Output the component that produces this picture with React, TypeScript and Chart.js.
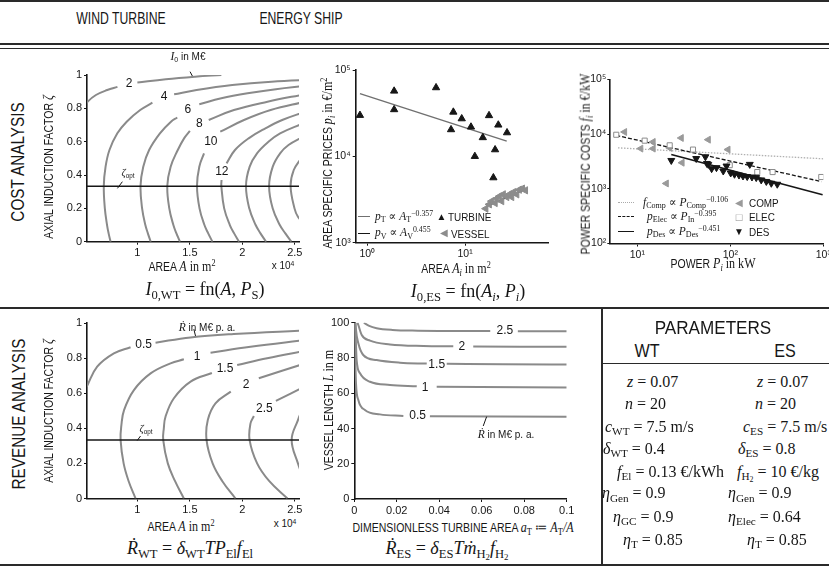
import React, { useEffect, useRef } from "react";
import { Chart, registerables } from "chart.js";

Chart.register(...registerables);

type Pt = [number, number] | null;

// ================= DATA =================
// Panel 1: wind-turbine investment contours I0 (M€), x = area A (×10^4 m²), y = axial induction factor ζ
const WT_AREA_TICKS = [1, 1.5, 2, 2.5];
const ZETA_TICKS = [0, 0.2, 0.4, 0.6, 0.8, 1];
const ZETA_OPT_A = [0.52, 2.54];
const ZETA_OPT_Z = [0.333, 0.333];

const I0_C2: Pt[] = [[0.47, 0.79], [0.527, 0.84], [0.605, 0.88], [0.713, 0.91], [0.81, 0.929], null, [1.0, 0.955], [1.271, 0.975], [1.55, 0.99], [1.8, 1.0]];
const I0_C4: Pt[] = [[0.745, 0], [0.726, 0.05], [0.711, 0.1], [0.69, 0.2], [0.68, 0.334], [0.697, 0.45], [0.734, 0.55], [0.809, 0.65], [0.898, 0.72], [1.027, 0.79], [1.143, 0.834], null, [1.35, 0.884], [1.564, 0.91], [1.904, 0.94], [2.278, 0.96], [2.79, 0.975]];
const I0_C6: Pt[] = [[1.127, 0], [1.1, 0.05], [1.076, 0.1], [1.045, 0.2], [1.03, 0.334], [1.056, 0.45], [1.112, 0.55], [1.215, 0.65], [1.32, 0.72], [1.38, 0.745], null, [1.59, 0.825], [1.8, 0.86], [2.05, 0.89], [2.32, 0.915], [2.6, 0.935]];
const I0_C8: Pt[] = [[1.406, 0], [1.372, 0.05], [1.343, 0.1], [1.304, 0.2], [1.285, 0.334], [1.317, 0.45], [1.385, 0.55], [1.445, 0.62], [1.5, 0.665], null, [1.68, 0.73], [1.92, 0.79], [2.24, 0.84], [2.6, 0.885]];
const I0_C10: Pt[] = [[1.715, 0], [1.675, 0.05], [1.639, 0.1], [1.592, 0.2], [1.568, 0.334], [1.59, 0.45], [1.635, 0.53], null, [1.79, 0.66], [2.016, 0.73], [2.27, 0.79], [2.6, 0.84]];
const I0_C12: Pt[] = [[1.969, 0], [1.922, 0.05], [1.881, 0.1], [1.827, 0.2], [1.8, 0.334], [1.802, 0.37], null, [1.85, 0.47], [1.93, 0.55], [2.06, 0.62], [2.22, 0.68], [2.38, 0.73], [2.6, 0.78]];
const I0_C14: Pt[] = [[2.226, 0], [2.173, 0.05], [2.127, 0.1], [2.066, 0.2], [2.035, 0.334], [2.07, 0.45], [2.14, 0.53], [2.25, 0.6], [2.36, 0.65], [2.58, 0.71]];
const I0_C16: Pt[] = [[2.467, 0], [2.41, 0.05], [2.357, 0.1], [2.289, 0.2], [2.255, 0.334], [2.29, 0.45], [2.36, 0.53], [2.44, 0.58], [2.58, 0.63]];
const I0_C18: Pt[] = [[2.6, 0.1], [2.53, 0.15], [2.497, 0.2], [2.46, 0.334], [2.49, 0.43], [2.56, 0.5]];
const I0_LABELS: [string, number, number][] = [["2", 0.92, 0.945], ["4", 1.254, 0.87], ["6", 1.48, 0.79], ["8", 1.59, 0.71], ["10", 1.7, 0.6], ["12", 1.805, 0.42]];
const I0_LEADERS: [number, number, number, number][] = [[1.502, 1.02, 1.524, 0.994], [0.81, 0.32, 0.857, 0.36]];

// Panel 4: wind-turbine revenue contours (M€ p.a.)
const R_05: Pt[] = [[0.48, 0.6], [0.517, 0.637], [0.617, 0.751], [0.776, 0.827], [0.935, 0.862], null, [1.173, 0.888], [1.507, 0.918], [1.919, 0.937], [2.6, 0.957]];
const R_1: Pt[] = [[0.983, 0], [0.916, 0.1], [0.869, 0.2], [0.84, 0.334], [0.848, 0.42], [0.873, 0.504], [0.967, 0.618], [1.126, 0.713], [1.316, 0.77], [1.443, 0.793], null, [1.697, 0.831], [2.078, 0.865], [2.6, 0.903]];
const R_15: Pt[] = [[1.443, 0], [1.358, 0.1], [1.29, 0.2], [1.246, 0.334], [1.252, 0.4], [1.268, 0.466], [1.348, 0.571], [1.507, 0.666], [1.71, 0.715], null, [1.951, 0.761], [2.237, 0.799], [2.6, 0.842]];
const R_2: Pt[] = [[1.935, 0], [1.808, 0.1], [1.717, 0.2], [1.659, 0.334], [1.671, 0.447], [1.744, 0.542], [1.89, 0.609], null, [2.157, 0.685], [2.6, 0.77]];
const R_25: Pt[] = [[2.43, 0], [2.255, 0.1], [2.141, 0.2], [2.069, 0.334], [2.078, 0.428], [2.11, 0.47], null, [2.32, 0.556], [2.6, 0.64]];
const R_3: Pt[] = [[2.58, 0.12], [2.53, 0.2], [2.47, 0.334], [2.53, 0.447], [2.58, 0.52]];
const R_LABELS: [string, number, number][] = [["0.5", 1.06, 0.875], ["1", 1.569, 0.81], ["1.5", 1.835, 0.74], ["2", 2.036, 0.647], ["2.5", 2.21, 0.514]];
const R_LEADERS: [number, number, number, number][] = [[1.538, 0.965, 1.554, 0.926], [0.998, 0.33, 1.03, 0.356]];

// Panel 5: vessel length contours (M€ p.a.), x = a_T, y = L in m
const AT_TICKS = [0, 0.02, 0.04, 0.06, 0.08, 0.1];
const L_TICKS = [0, 20, 40, 60, 80, 100];
const L_25: Pt[] = [[0.0045, 100], [0.007, 98.2], [0.0105, 96.9], [0.018, 95.9], [0.03, 95.5], [0.05, 95.3], [0.064, 95.3], null, [0.077, 95.2], [0.1, 95.2]];
const L_2: Pt[] = [[0.0015, 100], [0.0019, 98.7], [0.0035, 93], [0.0074, 89.8], [0.0168, 87.7], [0.0325, 86.8], [0.0466, 86.6], null, [0.056, 86.5], [0.1, 86.3]];
const L_15: Pt[] = [[0.0006, 100], [0.0008, 95.9], [0.0019, 88.3], [0.0042, 81.7], [0.0105, 78.8], [0.0215, 77.3], [0.0341, 76.8], null, [0.0435, 76.7], [0.07, 76.5], [0.1, 76.3]];
const L_1: Pt[] = [[0.0004, 100], [0.0007, 90.2], [0.0011, 78.8], [0.0027, 71.3], [0.0074, 66.5], [0.0168, 64.7], [0.0294, 63.9], null, [0.0388, 63.7], [0.1, 63.3]];
const L_05: Pt[] = [[0.0003, 100], [0.0005, 78.8], [0.0008, 65.6], [0.0019, 56.2], [0.005, 50.5], [0.0121, 48], [0.0231, 47.1], null, [0.0356, 46.9], [0.1, 46.6]];
const L_LABELS: [string, number, number][] = [["2.5", 0.0709, 95.5], ["2", 0.0506, 86.4], ["1.5", 0.0388, 76.2], ["1", 0.0333, 63.3], ["0.5", 0.0298, 47.0]];
const L_LEADERS: [number, number, number, number][] = [[0.0623, 46.7, 0.0607, 41.4]];

// Panel 2: area specific prices
const ES_AREA_TICKS = [1, 10];
const ES_AREA_TICK_LABELS = ["10⁰", "10¹"];
const PRICE_TICKS = [1e3, 1e4, 1e5];
const PRICE_TICK_LABELS = ["10³", "10⁴", "10⁵"];
const TURBINE_AREA = [0.84, 1.88, 1.88, 5.05, 7.19, 7.59, 9.25, 11.5, 12.6, 15.2, 17.6, 19.5, 20.3, 21.9, 26.9];
const TURBINE_PRICE = [29900, 57100, 34800, 62500, 20400, 32600, 27300, 21900, 10000, 16500, 29700, 5660, 11950, 23100, 18800];
const VESSEL_AREA = [16.3, 17.7, 18.7, 20.3, 21.1, 22.4, 23.7, 24.6, 26.7, 28.4, 30.0, 31.3, 33.8, 35.9, 38.6, 41.5];
const VESSEL_PRICE = [2480, 2780, 3030, 2880, 3240, 3440, 3030, 3630, 3380, 3630, 3380, 3850, 3630, 4110, 4230, 4040];
const TURBINE_FIT_AREA = [0.84, 26.7];
const TURBINE_FIT_PRICE = [53300, 15000];
const VESSEL_FIT_AREA = [16.7, 41.2];
const VESSEL_FIT_PRICE = [2650, 4150];

// Panel 3: power specific costs
const POWER_TICKS = [10, 100, 1000];
const POWER_TICK_LABELS = ["10¹", "10²", "10³"];
const COST_TICKS = [1e2, 1e3, 1e4, 1e5];
const COST_TICK_LABELS = ["10²", "10³", "10⁴", "10⁵"];
const COMP_POWER = [7.3, 10.9, 14.8, 14.8, 22.3, 29.7, 30.3, 20.5, 58, 94.4];
const COMP_COST = [10900, 5420, 7170, 5420, 5590, 8470, 2990, 1250, 7890, 5200];
const ELEC_POWER = [5.94, 12.0, 22.3, 39.7, 98.6, 195, 285, 951];
const ELEC_COST = [9700, 7570, 6220, 5200, 2700, 2020, 2020, 1640];
const DES_POWER = [23.2, 43, 54, 56, 58, 63, 71, 84, 91, 101, 111, 124, 137, 152, 162, 171, 190, 215, 244, 276, 320];
const DES_COST = [3290, 3570, 3840, 2900, 2790, 2330, 2430, 2110, 2600, 1940, 1840, 1780, 1710, 1670, 2790, 1640, 1600, 1450, 1360, 1260, 1210];
const COMP_FIT_POWER = [6.2, 1000];
const COMP_FIT_COST = [5590, 3530];
const ELEC_FIT_POWER = [5.94, 951];
const ELEC_FIT_COST = [9440, 1355];
const DES_FIT_POWER = [23.2, 983];
const DES_FIT_COST = [4230, 776];

// ================= STYLE / HELPERS =================
const INK = "#161616";
const CONTOUR = "#8a8a8a";
const SANS = '"Liberation Sans", Arial, Helvetica, sans-serif';
const SERIF = '"Liberation Serif", "DejaVu Serif", "Times New Roman", serif';

function segs(pts: Pt[]) {
  const out: { x: number; y: number }[][] = [];
  let cur: { x: number; y: number }[] = [];
  for (const p of pts) {
    if (p) cur.push({ x: p[0], y: p[1] });
    else { if (cur.length) out.push(cur); cur = []; }
  }
  if (cur.length) out.push(cur);
  return out;
}
const zip = (xs: number[], ys: number[]) => xs.map((x, i) => ({ x, y: ys[i] }));

function contourSets(curves: Pt[][], mono = false) {
  const sets: any[] = [];
  for (const c of curves) {
    for (const s of segs(c)) {
      sets.push({
        data: s, showLine: true, borderColor: CONTOUR, borderWidth: 2, pointRadius: 0,
        tension: mono ? 0 : 0.4, cubicInterpolationMode: mono ? "monotone" : "default", clip: 0,
      });
    }
  }
  return sets;
}

function axis(o: { type: string; min: number; max: number; ticks: number[]; labels?: string[]; size: number; font?: number; tickLen?: number; pad?: number }) {
  const { type, min, max, ticks, labels, size, font = 11, tickLen = 3, pad = 2 } = o;
  return {
    type, min, max,
    afterBuildTicks: (s: any) => { s.ticks = ticks.map((v) => ({ value: v })); },
    afterFit: (s: any) => {
      if (s.isHorizontal()) { s.height = size; s.paddingLeft = 0; s.paddingRight = 0; }
      else { s.width = size; s.paddingTop = 0; s.paddingBottom = 0; }
    },
    border: { display: true, color: INK, width: 1.6 },
    grid: { display: true, drawOnChartArea: false, drawTicks: true, tickLength: tickLen, color: INK, lineWidth: 1 },
    ticks: {
      autoSkip: false, maxRotation: 0, minRotation: 0, padding: pad, color: INK,
      font: { family: SANS, size: font },
      callback: (v: any, i: number) => (labels ? labels[i] : String(v)),
    },
  };
}

function notes(labels: [string, number, number][], leaders: [number, number, number, number][]) {
  return {
    id: "notes",
    afterDatasetsDraw(chart: any) {
      const { ctx } = chart;
      const xs = chart.scales.x, ys = chart.scales.y;
      ctx.save();
      ctx.fillStyle = INK;
      ctx.font = `12px ${SANS}`;
      ctx.textAlign = "center";
      ctx.textBaseline = "middle";
      for (const [t, a, b] of labels) ctx.fillText(t, xs.getPixelForValue(a), ys.getPixelForValue(b));
      ctx.strokeStyle = INK;
      ctx.lineWidth = 1;
      for (const [a1, b1, a2, b2] of leaders) {
        ctx.beginPath();
        ctx.moveTo(xs.getPixelForValue(a1), ys.getPixelForValue(b1));
        ctx.lineTo(xs.getPixelForValue(a2), ys.getPixelForValue(b2));
        ctx.stroke();
      }
      ctx.restore();
    },
  };
}

function cfg(datasets: any[], scales: any, padding: any, plugins: any[] = []) {
  return {
    type: "scatter",
    data: { datasets },
    options: {
      responsive: false, animation: false, events: [],
      layout: { padding },
      plugins: { legend: { display: false }, tooltip: { enabled: false }, title: { display: false } },
      scales,
    },
    plugins,
  };
}

const fitLine = (xs: number[], ys: number[], color: string, width: number, dash: number[] = []) => ({
  data: zip(xs, ys), showLine: true, borderColor: color, borderWidth: width, borderDash: dash, pointRadius: 0, tension: 0,
});
const markers = (xs: number[], ys: number[], style: string, rot: number, fill: string, stroke: string, r = 4.2) => ({
  data: zip(xs, ys), showLine: false, pointStyle: style, pointRotation: rot, pointRadius: r,
  pointBackgroundColor: fill, pointBorderColor: stroke, pointBorderWidth: 1,
});

// ---------- chart configs ----------
const makeI0 = () =>
  cfg(
    [fitLine(ZETA_OPT_A, ZETA_OPT_Z, INK, 1.6), ...contourSets([I0_C2, I0_C4, I0_C6, I0_C8, I0_C10, I0_C12, I0_C14, I0_C16, I0_C18])],
    {
      x: axis({ type: "linear", min: 0.52, max: 2.54, ticks: WT_AREA_TICKS, size: 18.3 }),
      y: axis({ type: "linear", min: 0, max: 1, ticks: ZETA_TICKS, size: 37 }),
    },
    { left: 0, top: 15, right: 11, bottom: 0 },
    [notes(I0_LABELS, I0_LEADERS)]
  );

const makeRev = () =>
  cfg(
    [fitLine(ZETA_OPT_A, ZETA_OPT_Z, INK, 1.6), ...contourSets([R_05, R_1, R_15, R_2, R_25, R_3])],
    {
      x: axis({ type: "linear", min: 0.52, max: 2.54, ticks: WT_AREA_TICKS, size: 16.5 }),
      y: axis({ type: "linear", min: 0, max: 1, ticks: ZETA_TICKS, size: 37 }),
    },
    { left: 0, top: 13, right: 11, bottom: 0 },
    [notes(R_LABELS, R_LEADERS)]
  );

const makeLen = () =>
  cfg(
    contourSets([L_25, L_2, L_15, L_1, L_05], true),
    {
      x: axis({ type: "linear", min: 0, max: 0.1, ticks: AT_TICKS, size: 16 }),
      y: axis({ type: "linear", min: 0, max: 100, ticks: L_TICKS, size: 39.3 }),
    },
    { left: 0, top: 12.7, right: 18.3, bottom: 0 },
    [notes(L_LABELS, L_LEADERS)]
  );

const makePrice = () =>
  cfg(
    [
      markers(TURBINE_AREA, TURBINE_PRICE, "triangle", 0, INK, INK),
      markers(VESSEL_AREA, VESSEL_PRICE, "triangle", -90, "#8c8c8c", "#8c8c8c"),
      fitLine(TURBINE_FIT_AREA, TURBINE_FIT_PRICE, "#707070", 1.4),
      fitLine(VESSEL_FIT_AREA, VESSEL_FIT_PRICE, INK, 1.3),
    ],
    {
      x: axis({ type: "logarithmic", min: 0.76, max: 72, ticks: ES_AREA_TICKS, labels: ES_AREA_TICK_LABELS, size: 17.3, font: 10.5 }),
      y: axis({ type: "logarithmic", min: 1e3, max: 1e5, ticks: PRICE_TICKS, labels: PRICE_TICK_LABELS, size: 40.7, font: 10.5 }),
    },
    { left: 0, top: 15, right: 11.2, bottom: 0 }
  );

const makeCost = () =>
  cfg(
    [
      markers(DES_POWER, DES_COST, "triangle", 180, INK, INK, 4),
      markers(ELEC_POWER, ELEC_COST, "rect", 0, "#ffffff", "#8c8c8c", 3.6),
      markers(COMP_POWER, COMP_COST, "triangle", -90, "#9a9a9a", "#9a9a9a", 4),
      fitLine(DES_FIT_POWER, DES_FIT_COST, INK, 1.7),
      fitLine(ELEC_FIT_POWER, ELEC_FIT_COST, INK, 1.3, [4, 2]),
      fitLine(COMP_FIT_POWER, COMP_FIT_COST, "#b0b0b0", 1.3, [1.5, 1.5]),
    ],
    {
      x: axis({ type: "logarithmic", min: 5, max: 1000, ticks: POWER_TICKS, labels: POWER_TICK_LABELS, size: 16.5, font: 10.5 }),
      y: axis({ type: "logarithmic", min: 100, max: 1e5, ticks: COST_TICKS, labels: COST_TICK_LABELS, size: 49.3, font: 10.5, tickLen: 2, pad: 1 }),
    },
    { left: 0, top: 19.3, right: 5.7, bottom: 0 }
  );

// ================= COMPONENTS =================
function Panel({ x, y, w, h, make }: { x: number; y: number; w: number; h: number; make: () => any }) {
  const ref = useRef<HTMLCanvasElement>(null);
  useEffect(() => {
    const chart = new Chart(ref.current as HTMLCanvasElement, make());
    return () => chart.destroy();
  }, []);
  return <canvas ref={ref} width={w} height={h} style={{ position: "absolute", left: x, top: y, width: w, height: h }} />;
}

function Txt({ x, y, size = 12, rot = 0, sx = 1, font = SANS, anchor = "middle", color = INK, children }: any) {
  const tx = anchor === "start" ? "0" : "-50%";
  return (
    <div
      style={{
        position: "absolute", left: x, top: y, whiteSpace: "nowrap", fontFamily: font, fontSize: size, lineHeight: 1, color,
        transform: `translate(${tx},-50%) rotate(${rot}deg) scaleX(${sx})`,
        transformOrigin: anchor === "start" ? "0 50%" : "50% 50%",
      }}
    >
      {children}
    </div>
  );
}
const M = ({ children, s = 1.15 }: any) => <span style={{ fontFamily: SERIF, fontStyle: "italic", fontSize: `${s}em` }}>{children}</span>;
const Rm = ({ children, s = 1.15 }: any) => <span style={{ fontFamily: SERIF, fontSize: `${s}em` }}>{children}</span>;
const Sb = ({ children }: any) => <span style={{ fontSize: "0.7em", position: "relative", top: "0.3em", fontStyle: "normal" }}>{children}</span>;
const Sp = ({ children }: any) => <span style={{ fontSize: "0.68em", position: "relative", top: "-0.5em", fontStyle: "normal" }}>{children}</span>;
const Rule = ({ x, y, w, h, c = "#2a2a2a" }: any) => <div style={{ position: "absolute", left: x, top: y, width: w, height: h, background: c }} />;
const Sample = ({ x, y, w, border }: any) => <div style={{ position: "absolute", left: x, top: y, width: w, height: 0, borderTop: border }} />;

const ROWS = [381.7, 404.3, 426.7, 449, 471.7, 493.3, 516.7, 540];

export default function App() {
  const wt = [
    { x: 627, c: <><i>z</i> = 0.07</> },
    { x: 625, c: <><i>n</i> = 20</> },
    { x: 605, c: <><i>c</i><Sb>WT</Sb> = 7.5 m/s</> },
    { x: 603, c: <><i>δ</i><Sb>WT</Sb> = 0.4</> },
    { x: 617, c: <><i>f</i><Sb>El</Sb> = 0.13 €/kWh</> },
    { x: 602, c: <><i>η</i><Sb>Gen</Sb> = 0.9</> },
    { x: 613, c: <><i>η</i><Sb>GC</Sb> = 0.9</> },
    { x: 623, c: <><i>η</i><Sb>T</Sb> = 0.85</> },
  ];
  const es = [
    { x: 757, c: <><i>z</i> = 0.07</> },
    { x: 755, c: <><i>n</i> = 20</> },
    { x: 743, c: <><i>c</i><Sb>ES</Sb> = 7.5 m/s</> },
    { x: 738, c: <><i>δ</i><Sb>ES</Sb> = 0.8</> },
    { x: 737, c: <><i>f</i><Sb>H<Sb>2</Sb></Sb> = 10 €/kg</> },
    { x: 728, c: <><i>η</i><Sb>Gen</Sb> = 0.9</> },
    { x: 728, c: <><i>η</i><Sb>Elec</Sb> = 0.64</> },
    { x: 747, c: <><i>η</i><Sb>T</Sb> = 0.85</> },
  ];
  return (
    <div style={{ position: "fixed", left: 0, top: 0, width: 829, height: 570, background: "#fff", overflow: "hidden", color: INK, fontFamily: SANS }}>
      {/* frame */}
      <Rule x={0} y={0} w={829} h={2} />
      <Rule x={0} y={42.5} w={829} h={2} />
      <Rule x={0} y={47.5} w={829} h={1.6} />
      <Rule x={0} y={306.5} w={829} h={2} />
      <Rule x={0} y={564} w={829} h={2} />
      <Rule x={600.5} y={307} w={2} h={258} />
      <Rule x={601} y={362.5} w={228} h={1.5} />

      {/* headers */}
      <Txt x={121} y={18} size={16.5} sx={0.74}>WIND TURBINE</Txt>
      <Txt x={301} y={18} size={16.5} sx={0.74}>ENERGY SHIP</Txt>
      <Txt x={18} y={162} size={18} sx={0.85} rot={-90}>COST ANALYSIS</Txt>
      <Txt x={19} y={414} size={18} sx={0.85} rot={-90}>REVENUE ANALYSIS</Txt>

      {/* charts */}
      <Panel x={50} y={60} w={260} h={200} make={makeI0} />
      <Panel x={315} y={55} w={245} h={205} make={makePrice} />
      <Panel x={560} y={60} w={269} h={200} make={makeCost} />
      <Panel x={50} y={310} w={260} h={205} make={makeRev} />
      <Panel x={315} y={310} w={270} h={205} make={makeLen} />

      {/* panel 1 texts */}
      <Txt x={48} y={167} size={12.5} sx={0.84} rot={-90}>AXIAL INDUCTION FACTOR <M>ζ</M></Txt>
      <Txt x={182} y={266} size={12.5} sx={0.84}>AREA <M>A</M> <Rm>in m<Sp>2</Sp></Rm></Txt>
      <Txt x={283} y={266} size={10}>x 10<Sp>4</Sp></Txt>
      <Txt x={205} y={289} size={18} font={SERIF}><i>I</i><Sb>0,WT</Sb> = fn(<i>A</i>, <i>P</i><Sb>S</Sb>)</Txt>
      <Txt x={188} y={57} size={10}><M>I</M><Sb>0</Sb> in M€</Txt>
      <Txt x={128} y={173} size={9}><M>ζ</M><Sb>opt</Sb></Txt>

      {/* panel 2 texts */}
      <Txt x={327} y={163} size={12.5} sx={0.84} rot={-90}>AREA SPECIFIC PRICES <M>p<Sb><i>i</i></Sb></M> <Rm>in €/m<Sp>2</Sp></Rm></Txt>
      <Txt x={456} y={268} size={12.5} sx={0.84}>AREA <M>A<Sb><i>i</i></Sb></M> <Rm>in m<Sp>2</Sp></Rm></Txt>
      <Txt x={468} y={291} size={18} font={SERIF}><i>I</i><Sb>0,ES</Sb> = fn(<i>A<Sb><i>i</i></Sb></i>, <i>P<Sb><i>i</i></Sb></i>)</Txt>
      <Sample x={358} y={216} w={12} border="1.5px solid #707070" />
      <Sample x={358} y={232.5} w={12} border="1.5px solid #161616" />
      <Txt x={375} y={216.7} size={11.5} font={SERIF} anchor="start"><i>p</i><Sb>T</Sb> ∝ <i>A</i><Sb>T</Sb><Sp>−0.357</Sp></Txt>
      <Txt x={375} y={233.3} size={11.5} font={SERIF} anchor="start"><i>p</i><Sb>V</Sb> ∝ <i>A</i><Sb>V</Sb><Sp>0.455</Sp></Txt>
      <Txt x={441.5} y={216.7} size={10}>▲</Txt>
      <Txt x={448} y={217} size={11} sx={0.9} anchor="start">TURBINE</Txt>
      <Txt x={444} y={233.3} size={10} color="#8c8c8c">◀</Txt>
      <Txt x={451} y={233.6} size={11} sx={0.9} anchor="start">VESSEL</Txt>

      {/* panel 3 texts */}
      <Txt x={585} y={164} size={12.5} sx={0.84} rot={-90}>POWER SPECIFIC COSTS <M>f<Sb><i>i</i></Sb></M> <Rm>in €/kW</Rm></Txt>
      <Txt x={713} y={263} size={12.5} sx={0.84}>POWER <M>P<Sb><i>i</i></Sb></M> <Rm>in kW</Rm></Txt>
      <Sample x={618} y={202} w={16} border="1.5px dotted #aaaaaa" />
      <Sample x={618} y={216} w={16} border="1.5px dashed #161616" />
      <Sample x={618} y={231} w={16} border="1.5px solid #161616" />
      <Txt x={643} y={202.7} size={11.5} font={SERIF} anchor="start"><i>f</i><Sb>Comp</Sb> ∝ <i>P</i><Sb>Comp</Sb><Sp>−0.106</Sp></Txt>
      <Txt x={647} y={216.7} size={11.5} font={SERIF} anchor="start"><i>p</i><Sb>Elec</Sb> ∝ <i>P</i><Sb>In</Sb><Sp>−0.395</Sp></Txt>
      <Txt x={647} y={231.7} size={11.5} font={SERIF} anchor="start"><i>p</i><Sb>Des</Sb> ∝ <i>P</i><Sb>Des</Sb><Sp>−0.451</Sp></Txt>
      <Txt x={739} y={202.7} size={10} color="#9a9a9a">◀</Txt>
      <Txt x={739} y={216.7} size={11} color="#8c8c8c">□</Txt>
      <Txt x={739} y={231.7} size={10}>▼</Txt>
      <Txt x={749} y={203} size={11} sx={0.9} anchor="start">COMP</Txt>
      <Txt x={749} y={217} size={11} sx={0.9} anchor="start">ELEC</Txt>
      <Txt x={749} y={232} size={11} sx={0.9} anchor="start">DES</Txt>

      {/* panel 4 texts */}
      <Txt x={48} y={411} size={12.5} sx={0.84} rot={-90}>AXIAL INDUCTION FACTOR <M>ζ</M></Txt>
      <Txt x={181} y={526} size={12.5} sx={0.84}>AREA <M>A</M> <Rm>in m<Sp>2</Sp></Rm></Txt>
      <Txt x={285} y={524} size={10}>x 10<Sp>4</Sp></Txt>
      <Txt x={190} y={548} size={18} font={SERIF}><i>Ṙ</i><Sb>WT</Sb> = <i>δ</i><Sb>WT</Sb><i>TP</i><Sb>El</Sb><i>f</i><Sb>El</Sb></Txt>
      <Txt x={207} y={328} size={10}><M>Ṙ</M> in M€ p. a.</Txt>
      <Txt x={146} y={429} size={9}><M>ζ</M><Sb>opt</Sb></Txt>

      {/* panel 5 texts */}
      <Txt x={328} y={410} size={12.5} sx={0.84} rot={-90}>VESSEL LENGTH <M>L</M> <Rm>in m</Rm></Txt>
      <Txt x={463} y={527} size={12.5} sx={0.84}>DIMENSIONLESS TURBINE AREA <M>a<Sb>T</Sb></M> <Rm>≔</Rm> <M>A<Sb>T</Sb>/A</M></Txt>
      <Txt x={447} y={548} size={18} font={SERIF}><i>Ṙ</i><Sb>ES</Sb> = <i>δ</i><Sb>ES</Sb><i>Tṁ</i><Sb>H<Sb>2</Sb></Sb><i>f</i><Sb>H<Sb>2</Sb></Sb></Txt>
      <Txt x={506} y={435} size={10}><M>Ṙ</M> in M€ p. a.</Txt>

      {/* parameters table */}
      <Txt x={713} y={327} size={19} sx={0.9}>PARAMETERS</Txt>
      <Txt x={647} y={350} size={19} sx={0.85}>WT</Txt>
      <Txt x={785} y={350} size={19} sx={0.85}>ES</Txt>
      {wt.map((r, i) => (
        <Txt key={"w" + i} x={r.x} y={ROWS[i]} size={16} font={SERIF} anchor="start">{r.c}</Txt>
      ))}
      {es.map((r, i) => (
        <Txt key={"e" + i} x={r.x} y={ROWS[i]} size={16} font={SERIF} anchor="start">{r.c}</Txt>
      ))}
    </div>
  );
}
